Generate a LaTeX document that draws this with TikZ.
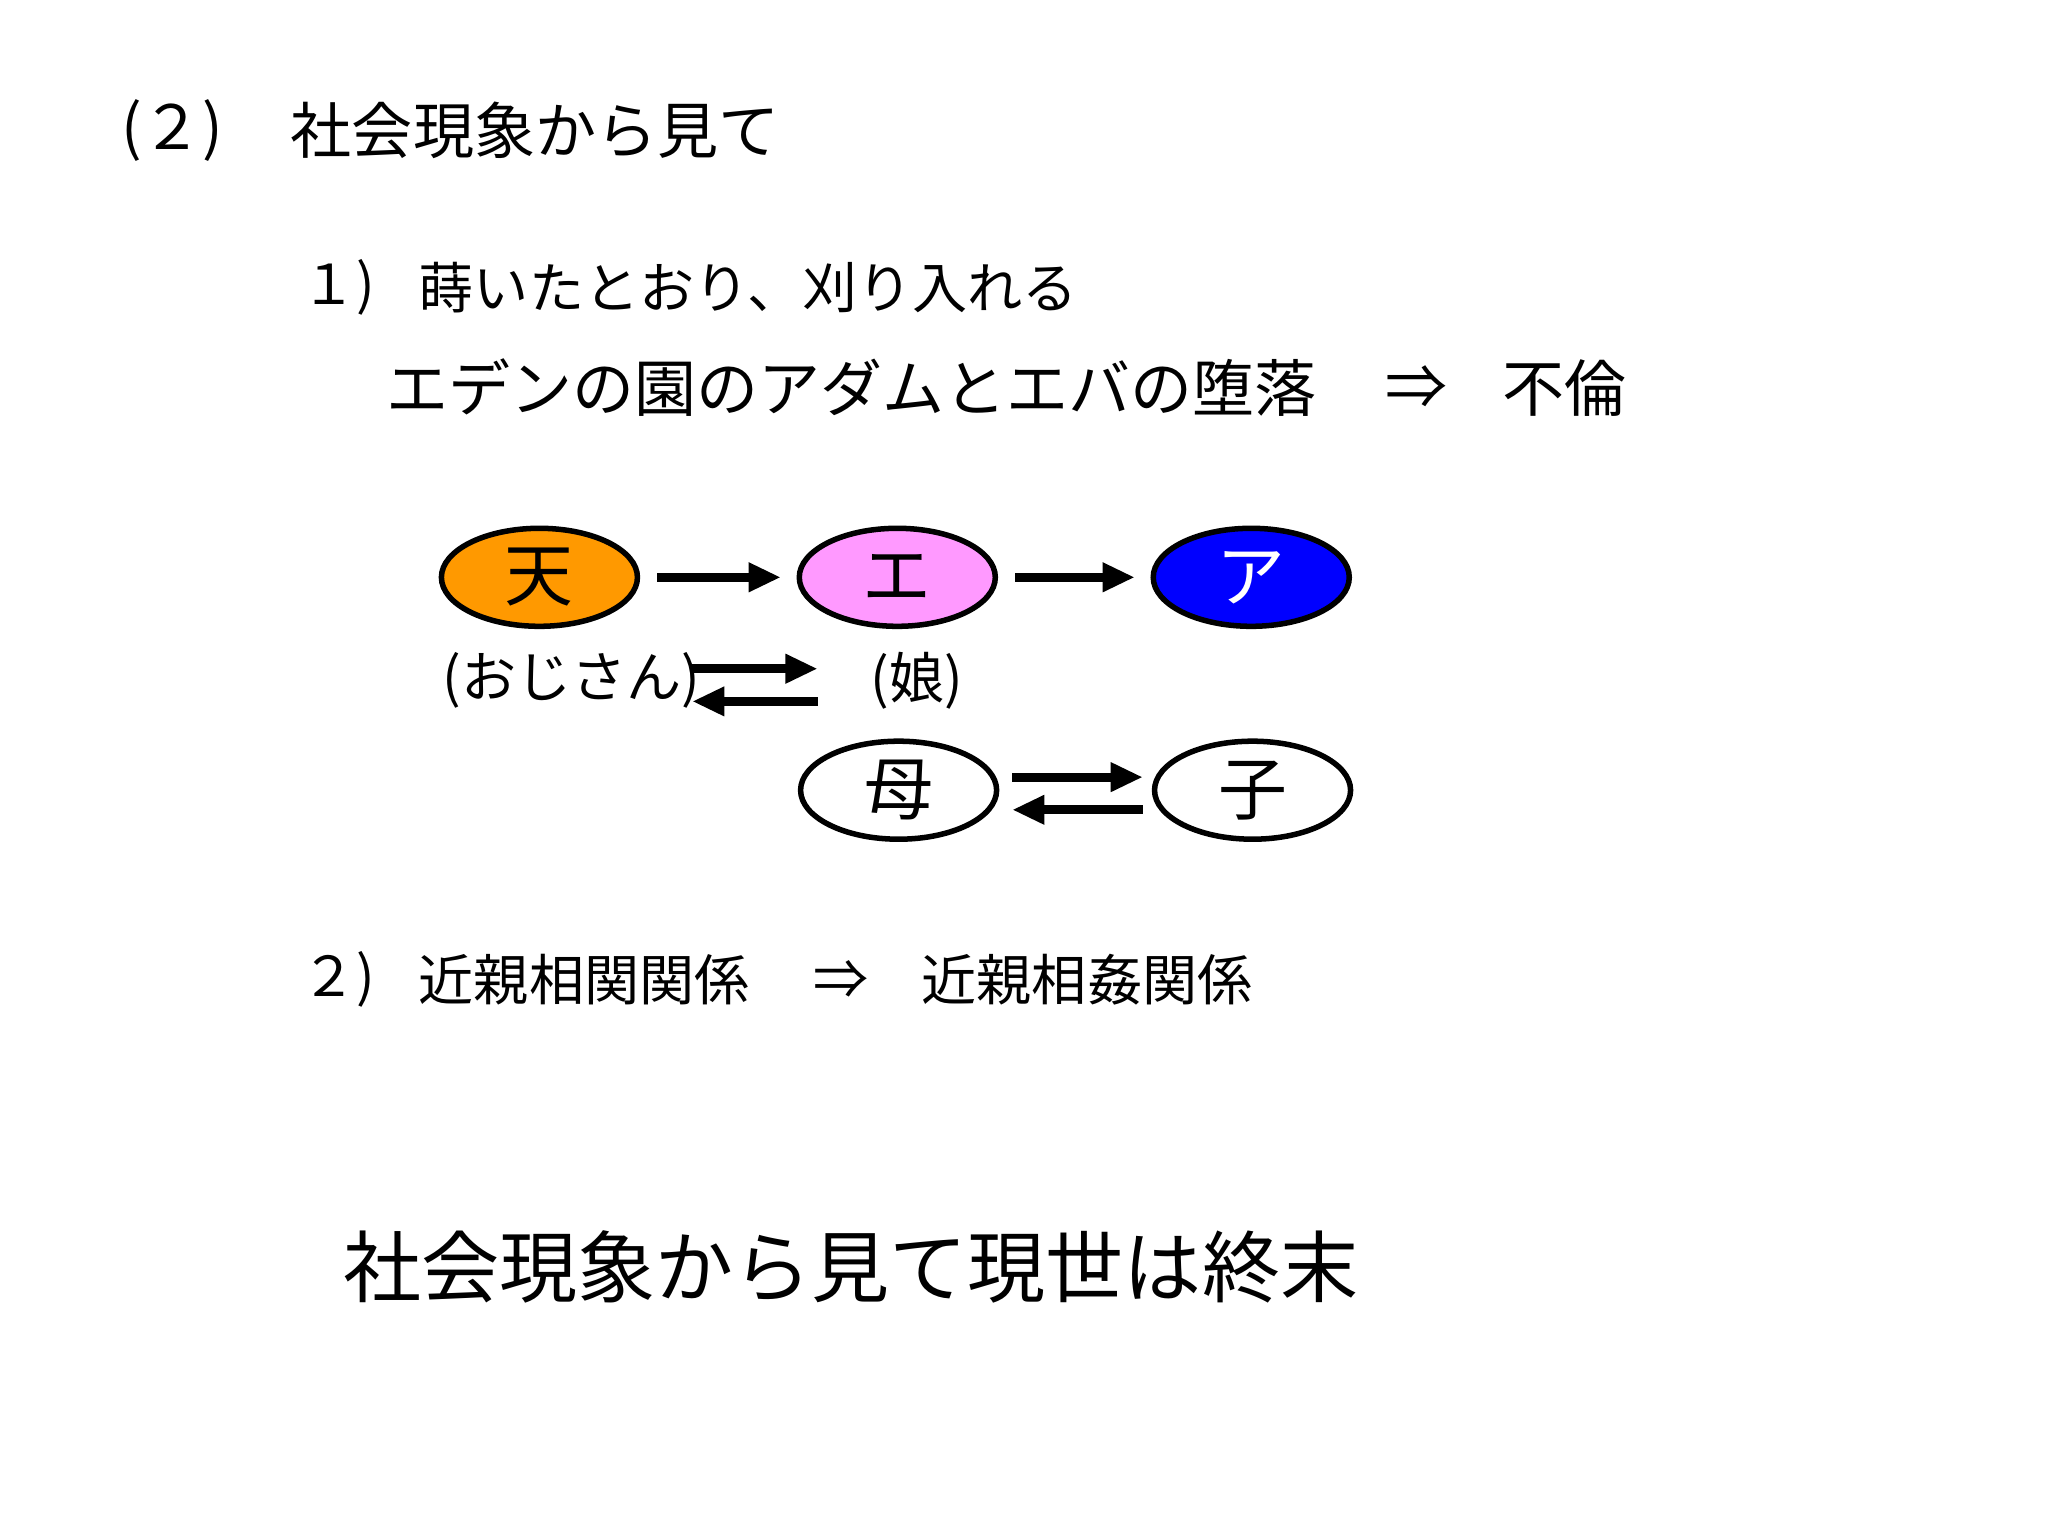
\documentclass[tikz,border=0pt]{standalone}
\usepackage{fontspec}
\setmainfont{Noto Sans CJK JP}
\usetikzlibrary{arrows.meta,shapes.geometric}
\tikzset{
 txt/.style={anchor=west,inner sep=0pt},
 ell/.style={draw=black,line width=1.2pt,ellipse,minimum width=1.5cm,minimum height=0.75cm,inner sep=0pt,font=\fontsize{15pt}{15pt}\selectfont},
 arr/.style={line width=2pt,-{Triangle[length=7pt,width=6pt]}}
}
\begin{document}
\begin{tikzpicture}[x=0.01cm,y=-0.01cm]
\useasboundingbox (0,0) rectangle (1568,1176);
\fill[white] (0,0) rectangle (1568,1176);
\node[txt,font=\fontsize{13.3pt}{14pt}\selectfont] (t1a) at (92,100) {(２)};
\node[txt,font=\fontsize{13.3pt}{14pt}\selectfont] (t1) at (222,100) {社会現象から見て};
\node[txt,font=\fontsize{12pt}{13pt}\selectfont] (t2a) at (230,220) {１)};
\node[txt,font=\fontsize{12pt}{13pt}\selectfont] (t2) at (320,220) {蒔いたとおり、刈り入れる};
\node[txt,font=\fontsize{13.5pt}{14pt}\selectfont] (t3) at (295,297) {エデンの園のアダムとエバの堕落};
\node[txt,font=\fontsize{13.5pt}{14pt}\selectfont] (t3b) at (1060,297) {⇒};
\node[txt,font=\fontsize{13.5pt}{14pt}\selectfont] (t3c) at (1150,297) {不倫};
\node[ell,fill={rgb,255:red,255;green,153;blue,0}] (ten) at (413,442) {天};
\node[ell,fill={rgb,255:red,255;green,153;blue,255}] (e) at (687,442) {エ};
\node[ell,fill={rgb,255:red,0;green,0;blue,255},text=white] (a) at (958,442) {ア};
\draw[arr] ([xshift=0.13cm]ten.east) -- ([xshift=-0.12cm]e.west);
\draw[arr] ([xshift=0.13cm]e.east) -- ([xshift=-0.12cm]a.west);
\node[txt,font=\fontsize{12pt}{13pt}\selectfont] (oji) at (338,521) {(おじさん)};
\node[txt,font=\fontsize{12pt}{13pt}\selectfont] (musu) at (666,521) {(娘)};
\coordinate (d1) at (530,512); \coordinate (d2) at (626,512);
\coordinate (d3) at (626,537); \coordinate (d4) at (530,537);
\draw[arr] (d1) -- (d2);
\draw[arr] (d3) -- (d4);
\node[ell,fill=white] (haha) at (688,605) {母};
\node[ell,fill=white] (ko) at (959,605) {子};
\coordinate (m1) at (775,595); \coordinate (m2) at (875,595);
\coordinate (m3) at (875,620); \coordinate (m4) at (775,620);
\draw[arr] (m1) -- (m2);
\draw[arr] (m3) -- (m4);
\node[txt,font=\fontsize{12pt}{13pt}\selectfont] (t4a) at (230,750) {２)};
\node[txt,font=\fontsize{12pt}{13pt}\selectfont] (t4) at (320,750) {近親相関関係};
\node[txt,font=\fontsize{12pt}{13pt}\selectfont] (t4b) at (622,750) {⇒};
\node[txt,font=\fontsize{12pt}{13pt}\selectfont] (t4c) at (705,750) {近親相姦関係};
\node[txt,font=\fontsize{17pt}{18pt}\selectfont] (t5) at (262,970) {社会現象から見て現世は終末};
\end{tikzpicture}
\end{document}
